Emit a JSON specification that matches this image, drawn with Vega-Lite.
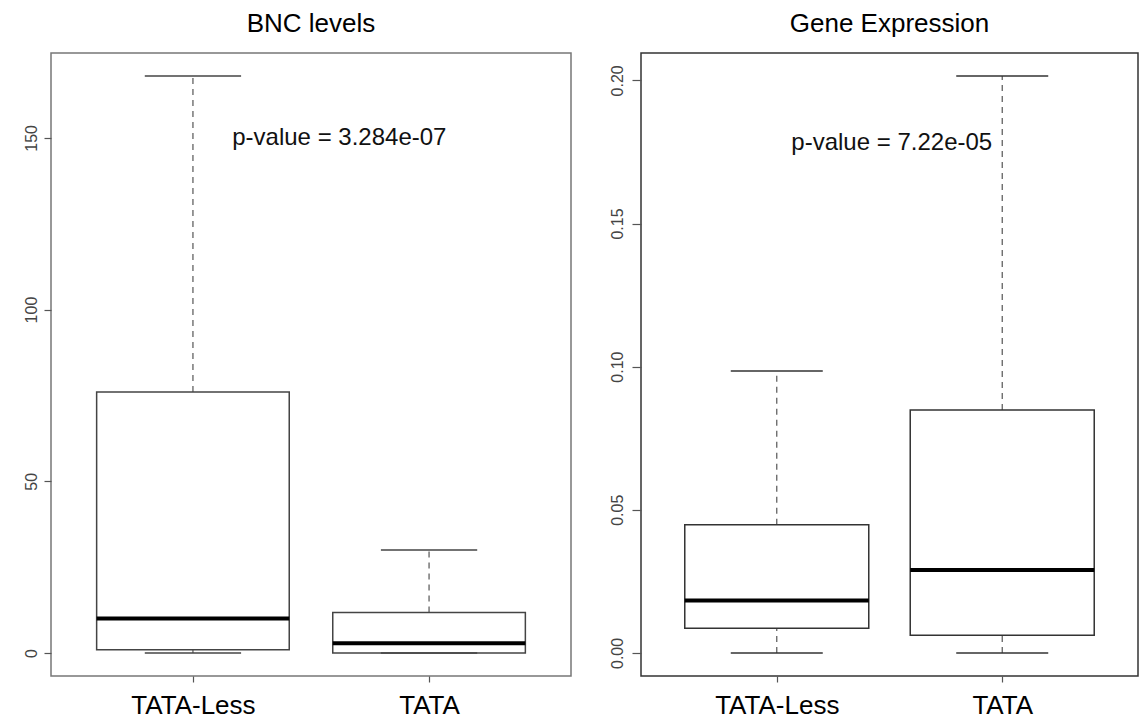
{
  "$schema": "https://vega.github.io/schema/vega-lite/v6.json",
  "padding": {"top": 10, "left": 0, "right": 0, "bottom": 0},
  "background": "white",
  "spacing": 18,
  "config": {
    "font": "Liberation Sans",
    "title": {"fontSize": 26, "fontWeight": "normal", "color": "#000000", "anchor": "middle", "offset": 16, "font": "Liberation Sans"},
    "axis": {"grid": false, "domain": false, "tickColor": "#555555", "tickWidth": 1.2, "labelColor": "#444444", "labelFont": "Liberation Sans", "title": null},
    "axisY": {"labelAngle": 270, "labelAlign": "center", "labelBaseline": "alphabetic", "labelFontSize": 16, "tickSize": 7, "labelPadding": 8, "minExtent": 50, "maxExtent": 50},
    "axisX": {"labelFontSize": 26, "labelColor": "#000000", "tickSize": 6, "labelPadding": 10},
    "view": {"stroke": "#666666", "strokeWidth": 1.5},
    "tick": {"opacity": 1}
  },
  "datasets": {
    "bnc": [
      {"group": "TATA-Less", "pos": 1, "min": 0, "q1": 0.9, "median": 10, "q3": 76, "max": 168},
      {"group": "TATA", "pos": 2, "min": 0, "q1": 0, "median": 2.8, "q3": 11.8, "max": 30}
    ],
    "expr": [
      {"group": "TATA-Less", "pos": 1, "min": 0, "q1": 0.0086, "median": 0.0183, "q3": 0.0448, "max": 0.0985},
      {"group": "TATA", "pos": 2, "min": 0, "q1": 0.0062, "median": 0.029, "q3": 0.0849, "max": 0.2015}
    ]
  },
  "hconcat": [
    {
      "title": "BNC levels",
      "width": 520,
      "height": 623,
      "view": {"stroke": "#777777", "strokeWidth": 1.5},
      "data": {"name": "bnc"},
      "encoding": {
        "x": {
          "field": "pos", "type": "quantitative",
          "scale": {"domain": [0.42, 2.58], "nice": false, "zero": false},
          "axis": {"values": [1, 2], "labelExpr": "datum.value == 1 ? 'TATA-Less' : 'TATA'"}
        }
      },
      "layer": [
        {
          "mark": {"type": "rule", "color": "#555555", "strokeWidth": 1.2, "strokeDash": [6, 5]},
          "encoding": {
            "y": {"field": "min", "type": "quantitative", "scale": {"domain": [-6.72, 174.72], "nice": false, "zero": false}, "axis": {"values": [0, 50, 100, 150]}},
            "y2": {"field": "q1"}
          }
        },
        {
          "mark": {"type": "rule", "color": "#555555", "strokeWidth": 1.2, "strokeDash": [6, 5]},
          "encoding": {"y": {"field": "q3", "type": "quantitative"}, "y2": {"field": "max"}}
        },
        {
          "mark": {"type": "bar", "size": 192.6, "fill": "white", "stroke": "#444444", "strokeWidth": 1.5},
          "encoding": {"y": {"field": "q1", "type": "quantitative"}, "y2": {"field": "q3"}}
        },
        {
          "mark": {"type": "tick", "orient": "horizontal", "size": 192.6, "thickness": 4, "color": "#000000", "opacity": 1},
          "encoding": {"y": {"field": "median", "type": "quantitative"}}
        },
        {
          "mark": {"type": "tick", "orient": "horizontal", "size": 96.3, "thickness": 1.5, "color": "#444444", "opacity": 1},
          "encoding": {"y": {"field": "min", "type": "quantitative"}}
        },
        {
          "mark": {"type": "tick", "orient": "horizontal", "size": 96.3, "thickness": 1.5, "color": "#444444", "opacity": 1},
          "encoding": {"y": {"field": "max", "type": "quantitative"}}
        },
        {
          "data": {"values": [{"pos": 1.62, "y": 150, "label": "p-value = 3.284e-07"}]},
          "mark": {"type": "text", "fontSize": 24, "color": "#111111", "align": "center", "baseline": "middle"},
          "encoding": {"y": {"field": "y", "type": "quantitative"}, "text": {"field": "label"}}
        }
      ]
    },
    {
      "title": "Gene Expression",
      "width": 497,
      "height": 623,
      "view": {"stroke": "#333333", "strokeWidth": 1.5},
      "data": {"name": "expr"},
      "encoding": {
        "x": {
          "field": "pos", "type": "quantitative",
          "scale": {"domain": [0.42, 2.58], "nice": false, "zero": false},
          "axis": {"values": [1, 2], "labelExpr": "datum.value == 1 ? 'TATA-Less' : 'TATA'"}
        }
      },
      "layer": [
        {
          "mark": {"type": "rule", "color": "#555555", "strokeWidth": 1.2, "strokeDash": [6, 5]},
          "encoding": {
            "y": {"field": "min", "type": "quantitative", "scale": {"domain": [-0.00806, 0.20956], "nice": false, "zero": false}, "axis": {"values": [0, 0.05, 0.1, 0.15, 0.2], "format": ".2f", "tickSize": 9, "labelPadding": 10}},
            "y2": {"field": "q1"}
          }
        },
        {
          "mark": {"type": "rule", "color": "#555555", "strokeWidth": 1.2, "strokeDash": [6, 5]},
          "encoding": {"y": {"field": "q3", "type": "quantitative"}, "y2": {"field": "max"}}
        },
        {
          "mark": {"type": "bar", "size": 184, "fill": "white", "stroke": "#333333", "strokeWidth": 1.5},
          "encoding": {"y": {"field": "q1", "type": "quantitative"}, "y2": {"field": "q3"}}
        },
        {
          "mark": {"type": "tick", "orient": "horizontal", "size": 184, "thickness": 4, "color": "#000000", "opacity": 1},
          "encoding": {"y": {"field": "median", "type": "quantitative"}}
        },
        {
          "mark": {"type": "tick", "orient": "horizontal", "size": 92, "thickness": 1.5, "color": "#333333", "opacity": 1},
          "encoding": {"y": {"field": "min", "type": "quantitative"}}
        },
        {
          "mark": {"type": "tick", "orient": "horizontal", "size": 92, "thickness": 1.5, "color": "#333333", "opacity": 1},
          "encoding": {"y": {"field": "max", "type": "quantitative"}}
        },
        {
          "data": {"values": [{"pos": 1.51, "y": 0.178, "label": "p-value = 7.22e-05"}]},
          "mark": {"type": "text", "fontSize": 24, "color": "#111111", "align": "center", "baseline": "middle"},
          "encoding": {"y": {"field": "y", "type": "quantitative"}, "text": {"field": "label"}}
        }
      ]
    }
  ]
}
